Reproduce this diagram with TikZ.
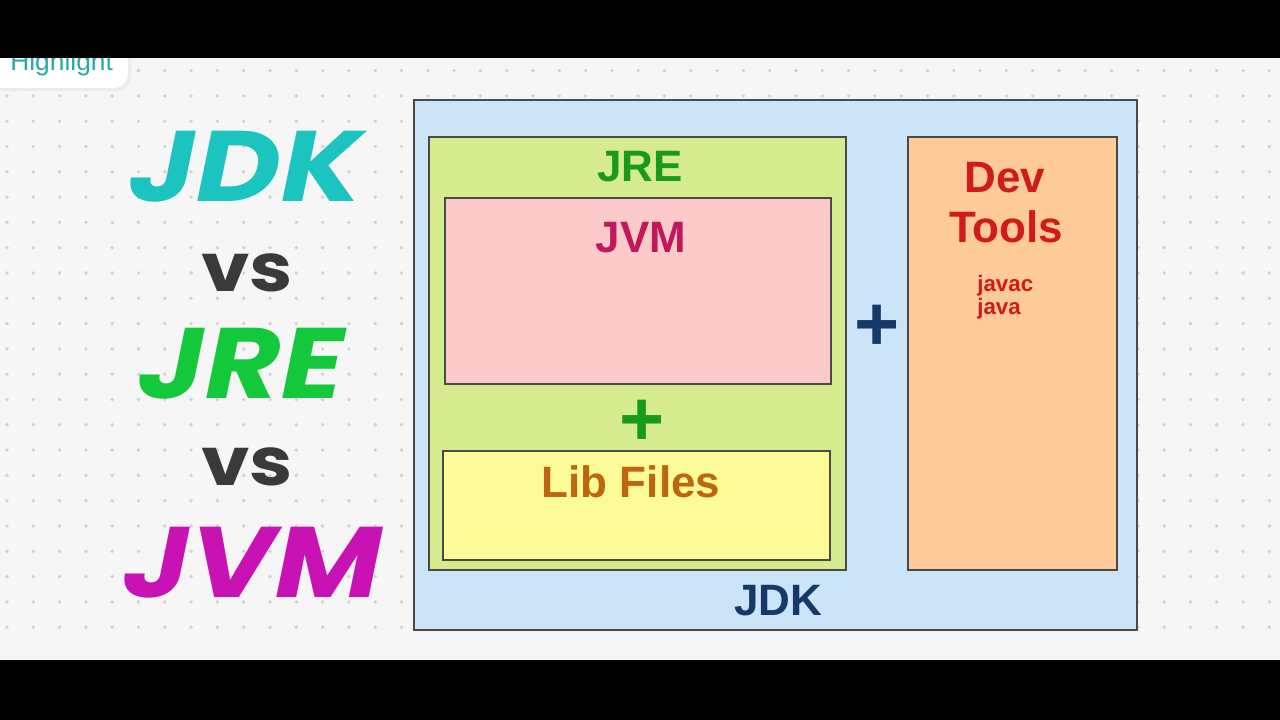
\documentclass[tikz,border=0pt]{standalone}
\usepackage{fontspec}
\setmainfont{Liberation Sans}
\newfontfamily\heavyfont[FakeStretch=1.16]{Poppins}
\usetikzlibrary{positioning}

\definecolor{pagebg}{HTML}{F6F6F6}
\definecolor{dotgray}{HTML}{D2D2D2}
\definecolor{edgegray}{HTML}{4A4A4A}
\definecolor{jdkfill}{HTML}{CCE4F7}
\definecolor{jrefill}{HTML}{D5EB8E}
\definecolor{jvmfill}{HTML}{FDCACA}
\definecolor{libfill}{HTML}{FDFB98}
\definecolor{devfill}{HTML}{FDCA98}
\definecolor{jretext}{HTML}{1A9A1A}
\definecolor{jvmtext}{HTML}{C2185B}
\definecolor{libtext}{HTML}{C0650F}
\definecolor{devtext}{HTML}{D11A1A}
\definecolor{jdktext}{HTML}{16386B}
\definecolor{titleteal}{HTML}{1CC4C0}
\definecolor{titlegreen}{HTML}{14C83C}
\definecolor{titlemagenta}{HTML}{C812B4}
\definecolor{titlegray}{HTML}{3A3A3A}
\definecolor{hltext}{HTML}{2AA8A8}

\tikzset{
    box/.style={draw=edgegray, line width=1.1pt},
    label/.style={font=\bfseries\fontsize{25}{30}\selectfont, anchor=base, inner sep=0pt},
    small/.style={font=\bfseries\fontsize{12.7}{15}\selectfont, anchor=base west, inner sep=0pt},
    plus/.style={font=\bfseries\fontsize{44}{44}\selectfont, inner sep=0pt},
    title/.style={font=\heavyfont\bfseries\itshape\fontsize{57}{60}\selectfont, anchor=base, inner sep=0pt},
    versus/.style={font=\heavyfont\bfseries\fontsize{38}{40}\selectfont, anchor=base, inner sep=0pt, text=titlegray}
}

\begin{document}
\begin{tikzpicture}[x=0.2mm, y=-0.2mm]
    \useasboundingbox (0,0) rectangle (1280,720);

    % background with dots
    \fill[pagebg] (0,0) rectangle (1280,720);
    \foreach \i in {0,...,48}
        \foreach \j in {0,...,24}
            \fill[dotgray] (7+26.3*\i, 20+25.3*\j) circle (1.1pt);

    % highlight tab
    \fill[black!8, rounded corners=8] (-10,42) rectangle (131,91);
    \fill[white, rounded corners=8] (-10,40) rectangle (128,88);
    \node[font=\fontsize{15}{18}\selectfont, text=hltext, anchor=base west, inner sep=0pt] (highlight) at (10,71) {Highlight};

    % title on the left
    \node[title, text=titleteal] (tjdk) at (246,202) {JDK};
    \node[versus] (tvs1) at (247,292) {vs};
    \node[title, text=titlegreen] (tjre) at (241,398) {JRE};
    \node[versus] (tvs2) at (247,485) {vs};
    \node[title, text=titlemagenta] (tjvm) at (253,597) {JVM};

    % JDK box
    \draw[box, fill=jdkfill] (414,100) rectangle (1137,630);
    \node[label, text=jdktext] (jdk) at (778,615) {JDK};

    % JRE box
    \draw[box, fill=jrefill] (429,137) rectangle (846,570);
    \node[label, text=jretext] (jre) at (640,182) {JRE};

    % JVM box
    \draw[box, fill=jvmfill] (445,198) rectangle (831,384);
    \node[label, text=jvmtext] (jvm) at (641,253) {JVM};

    \node[plus, text=jretext] (plusjre) at (642,423) {+};

    % Lib files
    \draw[box, fill=libfill] (443,451) rectangle (830,560);
    \node[label, text=libtext] (lib) at (631,497) {Lib Files};

    \node[plus, text=jdktext] (plusjdk) at (877,328) {+};

    % Dev tools
    \draw[box, fill=devfill] (908,137) rectangle (1117,570);
    \node[label, text=devtext] (dev) at (1005,193) {Dev};
    \node[label, text=devtext] (tools) at (1006,243) {Tools};
    \node[small, text=devtext] (javac) at (977,292) {javac};
    \node[small, text=devtext] (java) at (977,315) {java};

    % black bars
    \fill[black] (0,0) rectangle (1280,58);
    \fill[black] (0,660) rectangle (1280,720);
\end{tikzpicture}
\end{document}
